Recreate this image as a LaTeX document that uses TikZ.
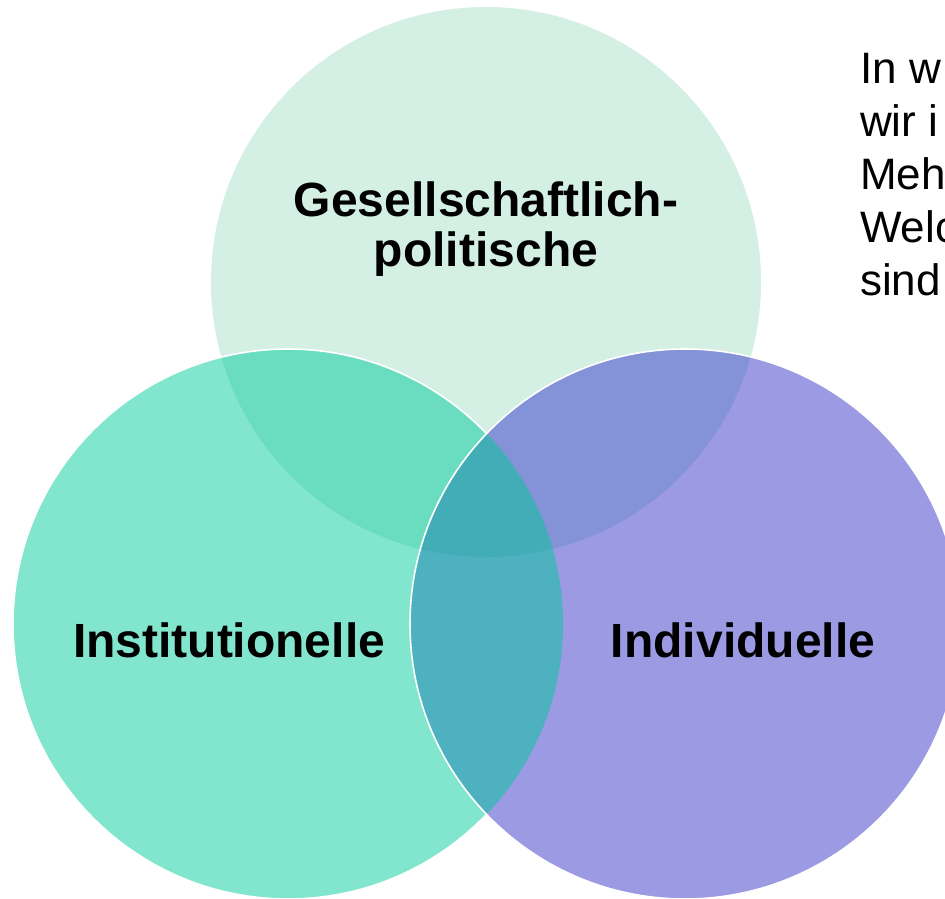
\documentclass[tikz,border=0pt]{standalone}
\usepackage{fontspec}
\setmainfont{Liberation Sans}
\definecolor{topfill}{HTML}{D4EFE3}
\definecolor{leftfill}{HTML}{82E5CD}
\definecolor{rightfill}{HTML}{9B9AE3}
\definecolor{topleft}{HTML}{6ADDC1}
\definecolor{topright}{HTML}{8492D7}
\definecolor{leftright}{HTML}{4DB1C0}
\definecolor{allthree}{HTML}{43ADB7}
\tikzset{
  ring/.style={draw=white, line width=1.6pt},
  setlabel/.style={font=\fontsize{48}{50}\selectfont\bfseries, anchor=base, inner sep=0pt},
}
\begin{document}
\begin{tikzpicture}[x=1pt,y=-1pt]
      \useasboundingbox (0,0) rectangle (945,899);
      \clip (0,0) rectangle (945,899);
      \coordinate (gp) at (486,282);
      \coordinate (inst) at (288,624);
      \coordinate (indiv) at (685,624);
      \fill[topfill] (gp) circle[radius=275pt];
      \fill[leftfill] (inst) circle[radius=275pt];
      \begin{scope}
        \clip (gp) circle[radius=275pt];
        \fill[topleft] (inst) circle[radius=275pt];
      \end{scope}
      \draw[ring] (inst) circle[radius=275pt];
      \fill[rightfill] (indiv) circle[radius=275pt];
      \begin{scope}
        \clip (gp) circle[radius=275pt];
        \fill[topright] (indiv) circle[radius=275pt];
      \end{scope}
      \begin{scope}
        \clip (inst) circle[radius=275pt];
        \fill[leftright] (indiv) circle[radius=275pt];
      \end{scope}
      \begin{scope}
        \clip (gp) circle[radius=275pt];
        \clip (inst) circle[radius=275pt];
        \fill[allthree] (indiv) circle[radius=275pt];
      \end{scope}
      \draw[ring] (indiv) circle[radius=275pt];
      % labels
      \node[setlabel, align=center] (gptext) at (486,266) {Gesellschaftlich-\\politische};
      \node[setlabel] (insttext) at (229,657) {Institutionelle};
      \node[setlabel] (indivtext) at (743,657) {Individuelle};
      \node[font=\fontsize{44}{53}\selectfont, anchor=north west, inner sep=0pt, align=left]
        (question) at (860,53) {In w\\wir i\\Meh\\Welc\\sind};
    \end{tikzpicture}
\end{document}
